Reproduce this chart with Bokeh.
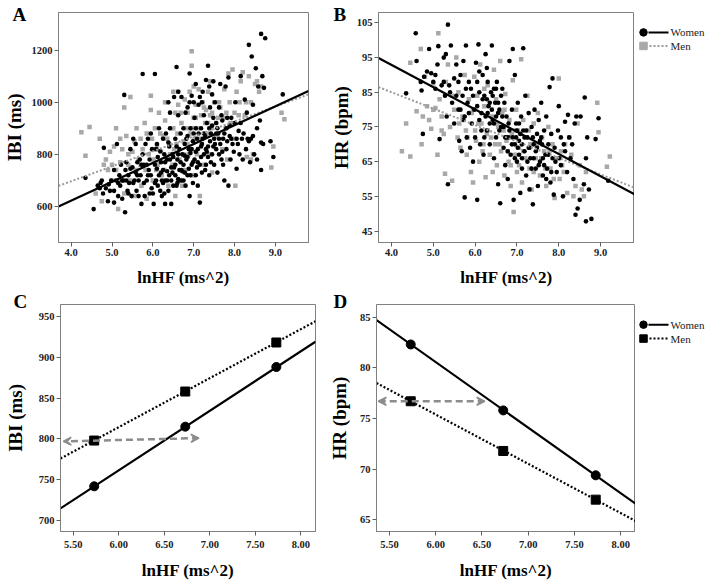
from bokeh.plotting import figure
from bokeh.layouts import column, row
from bokeh.models import Range1d, FixedTicker, Title, Arrow, VeeHead
from bokeh.embed import file_html
from bokeh.resources import INLINE
from bokeh.core.properties import value

FONT = "Liberation Serif"
GRAY_PT = "#a8a8a8"
GRAY_LINE = "#9a9a9a"
FRAME = "#808080"

# ---------------- data: panel A (lnHF vs IBI) ----------------
a_women = [
    (4.35, 710), (4.55, 590), (4.65, 680), (4.70, 670), (4.72, 690), (4.75, 700), (4.78, 650), (4.80, 825),
    (4.85, 670), (4.90, 620), (4.92, 685), (4.95, 660), (4.98, 700),
    (5.05, 615), (5.05, 660), (5.10, 700), (5.12, 840), (5.15, 640), (5.18, 720), (5.20, 680), (5.22, 760),
    (5.25, 630), (5.28, 700), (5.30, 1028), (5.32, 578), (5.33, 740), (5.35, 770), (5.38, 660), (5.40, 720),
    (5.42, 690), (5.45, 820), (5.48, 640), (5.50, 750), (5.25, 700), (5.45, 745),
    (5.52, 860), (5.55, 700), (5.58, 840), (5.60, 660), (5.62, 770), (5.65, 640), (5.68, 780), (5.70, 720),
    (5.72, 610), (5.75, 1108), (5.75, 800), (5.78, 760), (5.80, 640), (5.82, 840), (5.85, 700), (5.88, 860),
    (5.90, 740), (5.92, 780), (5.95, 880), (5.97, 670), (5.98, 820), (5.85, 760), (5.95, 720), (5.62, 720),
    (6.00, 650), (6.02, 610), (6.05, 1108), (6.05, 760), (6.08, 700), (6.10, 840), (6.12, 790), (6.15, 720),
    (6.15, 900), (6.18, 660), (6.20, 770), (6.22, 640), (6.25, 860), (6.25, 740), (6.28, 800), (6.30, 700),
    (6.30, 610), (6.32, 880), (6.35, 780), (6.38, 660), (6.40, 830), (6.40, 720), (6.42, 900), (6.45, 750),
    (6.45, 610), (6.48, 800), (6.50, 680), (6.10, 745), (6.18, 812), (6.22, 700), (6.30, 770), (6.35, 735),
    (6.38, 845), (6.45, 700), (6.50, 790), (6.42, 960),
    (6.52, 1020), (6.55, 720), (6.55, 860), (6.58, 1135), (6.60, 780), (6.60, 690), (6.62, 950), (6.65, 820),
    (6.65, 740), (6.68, 880), (6.70, 1020), (6.70, 700), (6.72, 800), (6.75, 760), (6.75, 900), (6.78, 840),
    (6.80, 680), (6.80, 960), (6.82, 780), (6.85, 870), (6.85, 720), (6.88, 820), (6.90, 640), (6.90, 1110),
    (6.92, 900), (6.95, 760), (6.95, 1025), (6.98, 690), (6.98, 850), (6.52, 750), (6.58, 830), (6.62, 705),
    (6.68, 770), (6.72, 735), (6.78, 795), (6.82, 860), (6.88, 745), (6.92, 805), (6.98, 770), (6.85, 980),
    (7.00, 1000), (7.02, 940), (7.02, 780), (7.05, 1070), (7.05, 720), (7.08, 860), (7.10, 820), (7.10, 680),
    (7.12, 990), (7.15, 760), (7.15, 615), (7.18, 900), (7.20, 840), (7.20, 730), (7.22, 1040), (7.25, 800),
    (7.25, 950), (7.28, 870), (7.30, 1085), (7.30, 760), (7.32, 920), (7.35, 830), (7.35, 1140), (7.38, 1060),
    (7.38, 720), (7.40, 980), (7.42, 880), (7.45, 800), (7.45, 1030), (7.48, 940), (7.50, 760), (7.50, 860),
    (7.05, 810), (7.08, 750), (7.12, 880), (7.18, 790), (7.22, 860), (7.28, 740), (7.32, 810), (7.38, 900),
    (7.42, 770), (7.48, 830), (7.15, 1020),
    (7.52, 1000), (7.55, 820), (7.55, 920), (7.58, 730), (7.60, 880), (7.62, 980), (7.65, 840), (7.65, 1070),
    (7.68, 780), (7.70, 930), (7.72, 860), (7.75, 700), (7.78, 1060), (7.80, 820), (7.80, 900), (7.82, 940),
    (7.85, 680), (7.85, 1095), (7.88, 870), (7.90, 780), (7.92, 940), (7.95, 840), (7.98, 810), (7.55, 880),
    (7.62, 800), (7.68, 950), (7.72, 760),
    (8.02, 1000), (8.05, 860), (8.05, 745), (8.10, 890), (8.12, 800), (8.15, 1100), (8.18, 860), (8.20, 780),
    (8.25, 1010), (8.28, 820), (8.30, 960), (8.32, 860), (8.35, 1220), (8.38, 770), (8.40, 860), (8.42, 1175),
    (8.45, 990), (8.48, 800),
    (8.52, 1130), (8.55, 780), (8.58, 1060), (8.62, 930), (8.65, 740), (8.65, 845), (8.65, 1262), (8.68, 1100),
    (8.70, 840), (8.72, 1055), (8.75, 1245), (8.88, 850), (8.95, 790), (9.18, 1030),
    (5.05, 740), (5.15, 690), (5.35, 700), (5.40, 650), (5.52, 690), (5.58, 730), (5.65, 700), (5.72, 760),
    (5.78, 690), (5.88, 720), (5.92, 650), (6.05, 690), (6.08, 820), (6.12, 680), (6.20, 730), (6.25, 690),
    (6.28, 650), (6.35, 700), (6.42, 780), (6.48, 730), (6.55, 760), (6.58, 680), (6.62, 800), (6.65, 700),
    (6.70, 740), (6.75, 700), (6.78, 730), (6.85, 790), (6.92, 720), (6.95, 820), (7.00, 880), (7.05, 900),
    (7.10, 770), (7.18, 830), (7.25, 880), (7.30, 820), (7.35, 790), (7.40, 850), (7.45, 910), (7.52, 840),
    (7.58, 900), (7.62, 860), (7.70, 810), (7.75, 880), (7.82, 850), (7.88, 910), (7.92, 860), (8.00, 920),
    (8.08, 840), (8.15, 920), (8.22, 880), (8.35, 850), (8.45, 870), (8.55, 900), (6.62, 1040), (6.38, 1000),
    (6.90, 1000), (7.48, 1080), (7.20, 1000),
]
a_men = [
    (4.25, 885), (4.35, 795), (4.45, 905), (4.60, 650), (4.70, 860), (4.75, 620), (4.80, 760), (4.85, 780),
    (4.90, 740), (4.95, 810), (5.00, 760), (5.05, 830), (5.10, 900), (5.10, 740), (5.15, 590), (5.18, 700),
    (5.20, 770), (5.25, 820), (5.30, 980), (5.30, 650), (5.35, 870), (5.40, 760), (5.45, 1020), (5.45, 700),
    (5.50, 810), (5.55, 850), (5.55, 640), (5.60, 900), (5.65, 780), (5.70, 760), (5.72, 680), (5.75, 820),
    (5.80, 920), (5.82, 740), (5.85, 630), (5.90, 800), (5.95, 970), (5.95, 1025), (5.98, 860), (6.00, 700),
    (6.02, 780), (6.05, 900), (6.10, 830), (6.12, 760), (6.15, 960), (6.20, 810), (6.22, 720), (6.25, 870),
    (6.30, 930), (6.32, 780), (6.35, 1000), (6.38, 680), (6.40, 840), (6.45, 900), (6.48, 760), (6.50, 1040),
    (6.52, 820), (6.55, 960), (6.55, 640), (6.60, 880), (6.62, 990), (6.65, 780), (6.70, 920), (6.72, 680),
    (6.75, 850), (6.78, 1010), (6.80, 740), (6.82, 900), (6.85, 960), (6.88, 800), (6.90, 1040), (6.92, 880),
    (6.95, 1195), (6.95, 1140), (6.98, 720), (7.00, 940), (7.02, 860), (7.05, 990), (7.08, 800), (7.10, 900),
    (7.12, 1050), (7.15, 640), (7.18, 950), (7.20, 840), (7.22, 1000), (7.25, 760), (7.28, 920), (7.30, 970),
    (7.32, 880), (7.35, 1040), (7.38, 800), (7.40, 950), (7.42, 900), (7.45, 730), (7.50, 1000), (7.55, 870),
    (7.60, 940), (7.65, 980), (7.70, 820), (7.75, 1050), (7.78, 900), (7.80, 960), (7.82, 780), (7.85, 1110),
    (7.90, 920), (7.95, 1125), (7.98, 860), (8.02, 680), (8.05, 1040), (8.10, 950), (8.15, 1080), (8.20, 1115),
    (8.25, 950), (8.30, 790), (8.35, 1100), (8.40, 780), (8.45, 800), (8.50, 1070), (8.55, 1080), (8.60, 1040),
    (8.65, 1060), (8.90, 750), (8.95, 830), (9.15, 960), (9.22, 935),
    (5.00, 700), (5.20, 860), (5.40, 800), (5.60, 740), (5.70, 860), (5.85, 880), (6.00, 820), (6.08, 740),
    (6.18, 880), (6.28, 740), (6.35, 860), (6.42, 800), (6.50, 900), (6.58, 840), (6.68, 960), (6.75, 800),
    (6.85, 840), (6.95, 900), (7.05, 940), (7.15, 860), (7.25, 980), (7.35, 920), (7.45, 960), (7.55, 920),
    (7.62, 1000), (7.72, 940), (7.88, 1000), (8.00, 960), (8.12, 1000), (8.28, 1000), (8.40, 1000), (6.30, 1000),
    (6.62, 1040), (7.00, 1060), (7.40, 1080),
]
a_women_fit_x = [3.69, 9.81]
a_women_fit_y = [600, 1043]
a_men_fit_x = [3.69, 9.81]
a_men_fit_y = [679, 1030]

# ---------------- data: panel B (lnHF vs HR) ----------------
b_women = [
    (4.35, 84.7), (4.58, 102.0), (4.60, 94.0), (4.70, 88.0), (4.72, 85.5), (4.75, 73.0), (4.78, 89.5), (4.85, 91.0),
    (4.90, 97.5), (4.95, 90.5), (5.00, 88.0), (5.05, 90.0), (5.10, 93.0), (5.12, 98.3), (5.15, 71.5), (5.20, 87.0),
    (5.25, 95.0), (5.28, 84.0), (5.30, 96.0), (5.32, 78.0), (5.35, 104.5), (5.35, 58.5), (5.38, 87.0), (5.42, 98.5),
    (5.45, 82.0), (5.50, 89.0), (5.50, 76.0), (5.55, 93.0), (5.60, 80.0), (5.62, 71.0), (5.65, 90.0), (5.68, 68.0),
    (5.70, 84.0), (5.72, 94.0), (5.75, 54.7), (5.75, 78.0), (5.78, 98.5), (5.80, 72.0), (5.82, 82.0), (5.85, 88.0),
    (5.88, 69.0), (5.90, 86.0), (5.92, 76.0), (5.95, 65.0), (5.98, 80.0), (6.00, 72.0), (6.02, 93.5), (6.05, 54.0),
    (6.08, 98.8), (6.10, 85.0), (6.12, 70.0), (6.15, 79.0), (6.18, 90.0), (6.20, 67.0), (6.22, 84.0), (6.25, 96.0),
    (6.28, 74.0), (6.30, 88.0), (6.32, 81.0), (6.35, 70.0), (6.38, 85.0), (6.40, 98.5), (6.42, 77.0), (6.45, 66.0),
    (6.48, 82.0), (6.50, 72.0), (6.52, 88.0), (6.55, 58.5), (6.58, 80.0), (6.60, 53.0), (6.62, 75.0), (6.65, 86.0),
    (6.68, 69.0), (6.70, 82.0), (6.72, 64.0), (6.75, 78.0), (6.78, 60.0), (6.80, 72.0), (6.82, 94.0), (6.85, 67.0),
    (6.88, 80.0), (6.90, 97.5), (6.92, 54.0), (6.95, 70.0), (6.95, 90.0), (6.98, 76.0), (7.00, 65.0), (7.02, 82.0),
    (7.05, 71.0), (7.08, 56.0), (7.10, 78.0), (7.12, 63.0), (7.15, 97.7), (7.15, 74.0), (7.18, 68.0), (7.20, 84.0),
    (7.22, 61.0), (7.25, 72.0), (7.28, 79.0), (7.30, 57.0), (7.32, 66.0), (7.35, 75.0), (7.38, 52.7), (7.40, 70.0),
    (7.42, 80.0), (7.45, 63.0), (7.48, 73.0), (7.50, 58.0), (7.52, 77.0), (7.55, 65.0), (7.58, 82.0), (7.60, 70.0),
    (7.62, 61.0), (7.65, 74.0), (7.68, 67.0), (7.70, 78.0), (7.72, 63.0), (7.75, 70.0), (7.78, 86.5), (7.80, 59.0),
    (7.82, 73.0), (7.85, 89.0), (7.85, 66.0), (7.88, 55.5), (7.90, 69.0), (7.95, 62.0), (7.98, 74.0), (8.00, 81.0),
    (8.02, 66.0), (8.05, 72.0), (8.10, 55.0), (8.12, 70.0), (8.15, 76.5), (8.20, 62.0), (8.22, 78.5), (8.28, 66.0),
    (8.32, 70.0), (8.35, 60.0), (8.38, 76.0), (8.40, 49.7), (8.42, 78.0), (8.45, 51.5), (8.50, 54.0), (8.52, 78.0),
    (8.60, 58.5), (8.62, 83.5), (8.65, 66.0), (8.65, 47.8), (8.68, 72.0), (8.72, 57.0), (8.78, 48.5), (8.88, 71.5),
    (8.95, 77.5), (9.18, 59.5),
    (5.55, 84.0), (5.78, 86.0), (6.05, 81.0), (6.15, 74.0), (6.25, 78.0), (6.35, 82.0), (6.45, 76.0), (6.55, 79.0),
    (6.62, 84.0), (6.72, 72.0), (6.80, 76.0), (6.88, 70.0), (6.98, 72.0), (7.05, 67.0), (7.12, 70.0), (7.22, 74.0),
    (7.30, 69.0), (7.38, 72.0), (7.45, 68.0), (7.55, 71.0), (7.62, 66.0), (7.05, 76.0), (6.45, 86.0), (6.28, 83.0),
    (5.05, 86.0), (5.25, 88.0), (5.40, 85.0), (5.60, 88.0), (5.65, 80.0), (5.72, 77.0), (5.85, 79.0), (5.95, 84.0),
    (6.05, 88.0), (6.10, 77.0), (6.18, 83.0), (6.22, 72.0), (6.30, 79.0), (6.35, 76.0), (6.40, 80.0), (6.42, 84.0),
    (6.50, 78.0), (6.55, 82.0), (6.58, 74.0), (6.65, 78.0), (6.68, 75.0), (6.75, 72.0), (6.78, 68.0), (6.82, 74.0),
    (6.90, 72.0), (6.95, 66.0), (7.00, 74.0), (7.02, 69.0), (7.08, 73.0), (7.12, 66.0), (7.18, 72.0), (7.25, 65.0),
    (7.28, 69.0), (7.35, 63.0), (7.40, 66.0), (7.48, 69.0), (7.52, 64.0), (7.58, 72.0), (7.65, 64.0), (7.70, 60.0),
    (7.75, 67.0), (7.82, 62.0), (7.92, 65.0), (8.05, 64.0), (8.15, 68.0), (8.25, 72.0), (6.10, 91.0), (6.28, 92.0),
    (6.50, 86.0),
]
b_men = [
    (4.25, 68.0), (4.35, 76.0), (4.45, 66.5), (4.45, 93.5), (4.60, 79.5), (4.70, 97.5), (4.72, 70.0), (4.75, 78.0),
    (4.80, 89.5), (4.85, 81.0), (4.90, 77.0), (4.95, 74.5), (5.00, 87.5), (5.05, 80.5), (5.10, 67.0), (5.12, 102.0),
    (5.15, 83.0), (5.20, 78.0), (5.25, 73.0), (5.28, 61.5), (5.30, 88.0), (5.35, 93.0), (5.40, 75.0), (5.45, 59.5),
    (5.50, 80.0), (5.55, 95.0), (5.58, 72.0), (5.60, 85.0), (5.65, 69.0), (5.70, 78.0), (5.75, 90.0), (5.78, 74.0),
    (5.80, 67.0), (5.85, 83.0), (5.90, 62.0), (5.92, 79.0), (5.95, 59.0), (5.98, 89.5), (6.00, 74.0), (6.02, 71.0),
    (6.05, 84.0), (6.10, 65.0), (6.12, 93.0), (6.15, 76.0), (6.20, 70.0), (6.22, 81.0), (6.25, 60.5), (6.28, 73.0),
    (6.30, 87.0), (6.35, 67.0), (6.40, 78.0), (6.42, 62.0), (6.45, 91.5), (6.48, 70.0), (6.50, 83.0), (6.52, 64.0),
    (6.55, 75.0), (6.60, 94.0), (6.62, 68.0), (6.65, 79.0), (6.70, 61.0), (6.72, 84.5), (6.75, 71.0), (6.80, 65.0),
    (6.82, 77.0), (6.85, 58.0), (6.88, 73.0), (6.90, 88.5), (6.92, 50.5), (6.95, 67.0), (6.98, 80.0), (7.00, 62.0),
    (7.02, 74.0), (7.05, 69.0), (7.10, 94.5), (7.12, 59.0), (7.15, 77.0), (7.20, 66.0), (7.22, 72.0), (7.25, 84.0),
    (7.30, 63.0), (7.32, 70.0), (7.35, 57.0), (7.40, 76.0), (7.45, 66.0), (7.50, 79.0), (7.55, 61.0), (7.60, 72.0),
    (7.65, 68.0), (7.70, 58.0), (7.75, 75.0), (7.80, 63.0), (7.85, 70.0), (7.90, 54.5), (7.95, 66.0), (8.00, 89.0),
    (8.02, 60.0), (8.08, 64.0), (8.15, 70.0), (8.20, 56.0), (8.25, 72.0), (8.30, 67.0), (8.35, 55.0), (8.45, 76.0),
    (8.50, 64.0), (8.55, 57.0), (8.60, 55.0), (8.65, 62.0), (8.92, 82.0), (8.95, 73.5), (9.15, 63.5), (9.22, 66.5),
    (5.00, 80.0), (5.20, 74.0), (5.45, 84.0), (5.62, 76.0), (5.82, 72.0), (5.95, 80.0), (6.08, 76.0), (6.18, 68.0),
    (6.30, 74.0), (6.38, 72.0), (6.52, 76.0), (6.58, 70.0), (6.68, 74.0), (6.78, 68.0), (6.85, 64.0), (6.95, 74.0),
    (7.05, 64.0), (7.15, 68.0), (7.28, 74.0), (7.40, 62.0), (7.48, 70.0), (7.58, 66.0), (7.68, 63.0), (7.78, 68.0),
    (7.88, 60.0), (8.05, 68.0), (8.12, 62.0), (8.40, 58.0), (6.22, 86.0), (6.70, 80.0),
]
b_women_fit_x = [3.69, 9.81]
b_women_fit_y = [94.9, 55.6]
b_men_fit_x = [3.69, 9.81]
b_men_fit_y = [86.5, 57.5]

# ---------------- data: panels C and D (predicted values) ----------------
cd_lnhf = [5.73, 6.73, 7.73]
c_women_ibi = [742, 815, 888]
c_men_ibi = [798, 858, 918]
c_women_fit_x = [5.36, 8.16]
c_women_fit_y = [715, 919]
c_men_fit_x = [5.36, 8.16]
c_men_fit_y = [776, 944]
c_arrow_x = [5.39, 6.88]
c_arrow_y = [797, 801]

d_women_hr = [82.3, 75.8, 69.4]
d_men_hr = [76.7, 71.8, 67.0]
d_women_fit_x = [5.36, 8.16]
d_women_fit_y = [84.7, 66.6]
d_men_fit_x = [5.36, 8.16]
d_men_fit_y = [78.5, 64.9]
d_arrow_x = [5.38, 6.53]
d_arrow_y = [76.7, 76.7]

# ---------------- tick labels / texts ----------------
ab_xticks = [4.0, 5.0, 6.0, 7.0, 8.0, 9.0]
ab_xlabels = ["4.0", "5.0", "6.0", "7.0", "8.0", "9.0"]
a_yticks = [600, 800, 1000, 1200]
b_yticks = [45, 55, 65, 75, 85, 95, 105]
cd_xticks = [5.5, 6.0, 6.5, 7.0, 7.5, 8.0]
cd_xlabels = ["5.50", "6.00", "6.50", "7.00", "7.50", "8.00"]
c_yticks = [700, 750, 800, 850, 900, 950]
d_yticks = [65, 70, 75, 80, 85]
legend_labels = ["Women", "Men"]
panel_letters = ["A", "B", "C", "D"]
x_title = "lnHF (ms^2)"
ibi_title = "IBI (ms)"
hr_title = "HR (bpm)"


def make_panel(width, height, left, right, top, bottom, xr, yr,
               xticks, xlabels, yticks, ytitle, xlabstand, xstand, ystand):
    p = figure(width=width, height=height, x_range=Range1d(*xr), y_range=Range1d(*yr),
               min_border_left=left, min_border_right=right,
               min_border_top=top, min_border_bottom=bottom,
               toolbar_location=None, output_backend="svg")
    p.xgrid.visible = False
    p.ygrid.visible = False
    p.outline_line_color = FRAME
    p.outline_line_width = 1
    p.xaxis.ticker = FixedTicker(ticks=xticks)
    p.xaxis.major_label_overrides = {t: l for t, l in zip(xticks, xlabels)}
    p.yaxis.ticker = FixedTicker(ticks=yticks)
    p.xaxis.axis_label = x_title
    p.yaxis.axis_label = ytitle
    for ax in (p.xaxis[0], p.yaxis[0]):
        ax.axis_line_color = FRAME
        ax.major_tick_line_color = "#606060"
        ax.major_tick_out = 4
        ax.major_tick_in = 0
        ax.minor_tick_line_color = None
        ax.major_label_text_font = FONT
        ax.major_label_text_font_style = "bold"
        ax.major_label_text_font_size = "10.5px"
        ax.major_label_text_color = "#202020"
        ax.major_label_standoff = 2
        ax.axis_label_text_font = FONT
        ax.axis_label_text_font_style = "bold"
        ax.axis_label_text_color = "#000000"
    p.xaxis.major_label_standoff = xlabstand
    p.xaxis.axis_label_text_font_size = "17px"
    p.yaxis.axis_label_text_font_size = "19px"
    p.xaxis.axis_label_standoff = xstand
    p.yaxis.axis_label_standoff = ystand
    return p


def add_letter(p, letter, offset, standoff):
    # panel letter drawn as a left-aligned title, shifted left of the frame
    p.add_layout(Title(text=letter, align="left", offset=offset, standoff=standoff,
                       vertical_align="bottom", text_font=FONT, text_font_style="bold",
                       text_font_size="19px", text_color="#000000"), "above")


def legend_fig(width, height, cx, y1, y2, men_color, men_line):
    q = figure(width=width, height=height, x_range=Range1d(0, width), y_range=Range1d(height, 0),
               min_border=0, toolbar_location=None, output_backend="svg",
               x_axis_type=None, y_axis_type=None)
    q.outline_line_color = None
    q.xgrid.visible = False
    q.ygrid.visible = False
    q.scatter([cx], [y1], marker="circle", size=7.5, color="black")
    q.line([cx + 5, cx + 25], [y1, y1], line_width=2, color="black")
    q.scatter([cx], [y2], marker="square", size=7.5, color=men_color)
    q.line([cx + 6, cx + 25], [y2, y2], line_width=2, color=men_line, line_dash="2 2")
    q.text([cx + 27, cx + 27], [y1, y2], text=legend_labels, text_baseline="middle", text_align="left",
           text_font=value(FONT), text_font_size="11px", text_color="#202020")
    return q


ROW1_H = 289
ROW2_H = 293

# ---- Panel A ----
pA = make_panel(325, ROW1_H, 58, 17, 12, 43, (3.69, 9.81), (462, 1344),
                ab_xticks, ab_xlabels, a_yticks, ibi_title, 2, 9, 4)
pA.scatter([v[0] for v in a_men], [v[1] for v in a_men], marker="square", size=4.5,
           color=GRAY_PT, line_color=None)
pA.scatter([v[0] for v in a_women], [v[1] for v in a_women], marker="circle", size=4.6,
           color="black", line_color=None)
pA.line(a_men_fit_x, a_men_fit_y, line_color=GRAY_LINE, line_width=2, line_dash="2 2")
pA.line(a_women_fit_x, a_women_fit_y, line_color="black", line_width=2.2)
add_letter(pA, panel_letters[0], -46, -24)

# ---- Panel B ----
pB = make_panel(309, ROW1_H, 53, 0, 12, 43, (3.69, 9.81), (41.7, 108.0),
                ab_xticks, ab_xlabels, b_yticks, hr_title, 2, 9, 2)
pB.scatter([v[0] for v in b_men], [v[1] for v in b_men], marker="square", size=4.5,
           color=GRAY_PT, line_color=None)
pB.scatter([v[0] for v in b_women], [v[1] for v in b_women], marker="circle", size=4.6,
           color="black", line_color=None)
pB.line(b_men_fit_x, b_men_fit_y, line_color=GRAY_LINE, line_width=2, line_dash="2 2")
pB.line(b_women_fit_x, b_women_fit_y, line_color="black", line_width=2.2)
add_letter(pB, panel_letters[1], -45, -24)

legB = legend_fig(71, ROW1_H, 9, 25, 42, GRAY_PT, GRAY_LINE)

# ---- Panel C ----
pC = make_panel(325, ROW2_H, 60, 10, 15, 49, (5.36, 8.16), (686.7, 964.5),
                cd_xticks, cd_xlabels, c_yticks, ibi_title, 5, 10, 10)
pC.line(c_men_fit_x, c_men_fit_y, line_color="black", line_width=2.2, line_dash="2 2")
pC.line(c_women_fit_x, c_women_fit_y, line_color="black", line_width=2.2)
pC.scatter(cd_lnhf, c_men_ibi, marker="square", size=9, color="black")
pC.scatter(cd_lnhf, c_women_ibi, marker="circle", size=9, color="black")
pC.add_layout(Arrow(x_start=c_arrow_x[1], y_start=c_arrow_y[1], x_end=c_arrow_x[0], y_end=c_arrow_y[0],
                    line_color="#8c8c8c", line_width=2.5, line_dash="7 4",
                    start=VeeHead(size=8, line_color="#8c8c8c", fill_color="#8c8c8c", line_width=1.5),
                    end=VeeHead(size=8, line_color="#8c8c8c", fill_color="#8c8c8c", line_width=1.5)))
add_letter(pC, panel_letters[2], -47, -14)

# ---- Panel D ----
pD = make_panel(310, ROW2_H, 51, 0, 15, 49, (5.36, 8.16), (63.86, 86.24),
                cd_xticks, cd_xlabels, d_yticks, hr_title, 5, 10, 7)
pD.line(d_men_fit_x, d_men_fit_y, line_color="black", line_width=2.2, line_dash="2 2")
pD.line(d_women_fit_x, d_women_fit_y, line_color="black", line_width=2.2)
pD.scatter(cd_lnhf, d_men_hr, marker="square", size=9, color="black")
pD.scatter(cd_lnhf, d_women_hr, marker="circle", size=9, color="black")
pD.add_layout(Arrow(x_start=d_arrow_x[1], y_start=d_arrow_y[1], x_end=d_arrow_x[0], y_end=d_arrow_y[0],
                    line_color="#8c8c8c", line_width=2.5, line_dash="7 4",
                    start=VeeHead(size=8, line_color="#8c8c8c", fill_color="#8c8c8c", line_width=1.5),
                    end=VeeHead(size=8, line_color="#8c8c8c", fill_color="#8c8c8c", line_width=1.5)))
add_letter(pD, panel_letters[3], -43, -14)

legD = legend_fig(70, ROW2_H, 8, 26, 44, "black", "black")

layout = column(row(pA, pB, legB), row(pC, pD, legD))
open("out.html", "w").write(file_html(layout, INLINE))
